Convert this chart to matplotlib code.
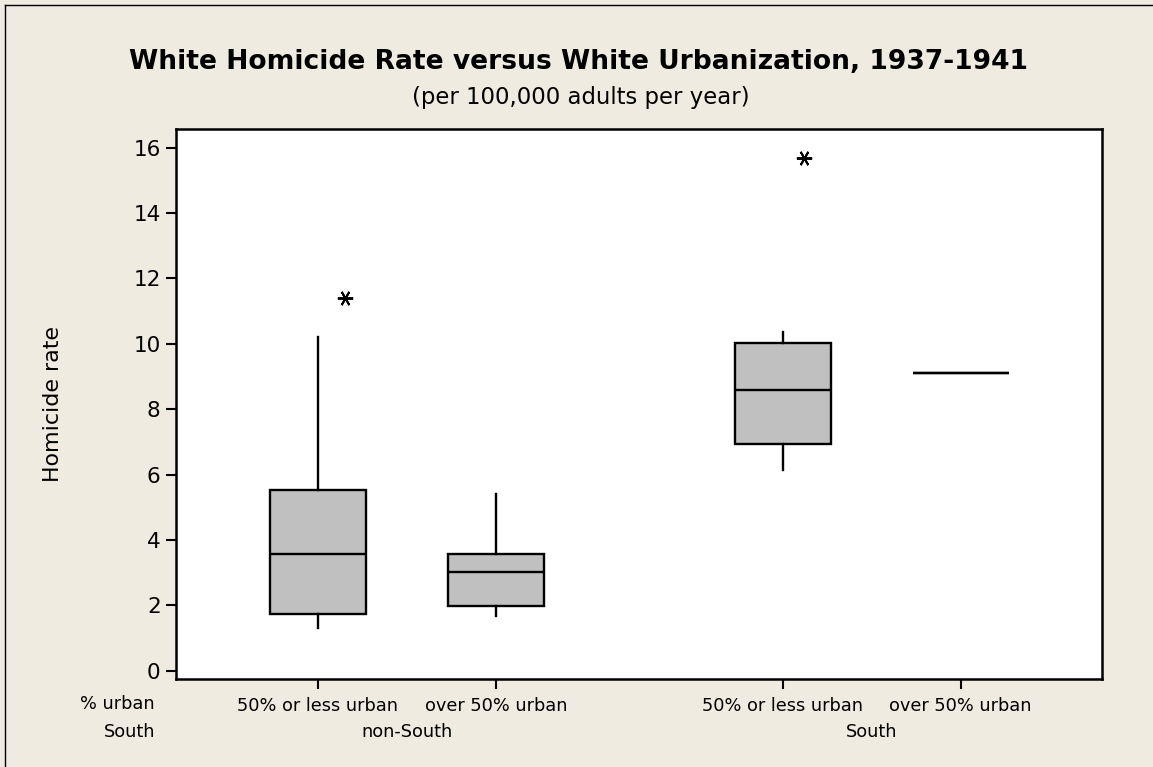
import matplotlib.pyplot as plt
from matplotlib.lines import Line2D

# Werte
categories = ["50% or less urban", "over 50% urban", "50% or less urban", "over 50% urban"]
groups = ["non-South", "South"]
positions = [1, 2, 3.61, 4.61]

q1 = [1.74, 1.97, 6.94, 9.1]
median = [3.57, 3.03, 8.58, 9.1]
q3 = [5.53, 3.57, 10.04, 9.1]
whis_lo = [1.30, 1.67, 6.13, 9.1]
whis_hi = [10.22, 5.41, 10.37, 9.1]

outlier_box = [0, 2]
outlier_val = [11.40, 15.67]
outlier_jitter = [0.15, 0.12]

bg = "#EFEBE1"

stats = []
for i in range(len(categories)):
    stats.append({
        'med': median[i], 'q1': q1[i], 'q3': q3[i],
        'whislo': whis_lo[i], 'whishi': whis_hi[i], 'fliers': [],
    })

fig = plt.figure(figsize=(11.53, 7.67), dpi=100, facecolor=bg)
ax = fig.add_axes([0.1526, 0.1147, 0.8031, 0.7171])

ax.bxp(stats, positions=positions, widths=0.54, patch_artist=True,
       showcaps=False,
       boxprops=dict(facecolor="#C0C0C0", edgecolor="black", linewidth=1.7),
       medianprops=dict(color="black", linewidth=1.7),
       whiskerprops=dict(color="black", linewidth=1.7))

for b, v, j in zip(outlier_box, outlier_val, outlier_jitter):
    ax.plot(positions[b] + j, v, marker=(6, 2, 90), markersize=11,
            markeredgewidth=1.4, color="black", linestyle="none")

ax.set_xlim(0.202, 5.404)
ax.set_ylim(-0.25, 16.57)
ax.set_yticks(range(0, 17, 2))
ax.set_xticks(positions)
ax.set_xticklabels(categories, fontsize=12.8)
ax.tick_params(axis='y', labelsize=15.5, length=7, width=1.5, direction='out', pad=4)
ax.tick_params(axis='x', length=7, width=1.5, direction='out', pad=6)
for s in ax.spines.values():
    s.set_linewidth(1.8)
ax.set_ylabel("Homicide rate", fontsize=15.9)
ax.yaxis.set_label_coords(-0.122, 0.5)

# Gruppen-Beschriftung
for k, g in enumerate(groups):
    xc = (positions[2 * k] + positions[2 * k + 1]) / 2
    ax.text(xc, -0.0964, g, transform=ax.get_xaxis_transform(),
            ha='center', va='center', fontsize=12.8)
fig.text(0.1344, 0.0821, "% urban", ha='right', va='center', fontsize=12.8)
fig.text(0.1344, 0.0456, "South", ha='right', va='center', fontsize=12.8)

fig.text(0.502, 0.919, "White Homicide Rate versus White Urbanization, 1937-1941",
         ha='center', va='center', fontsize=19.1, fontweight='bold')
fig.text(0.5035, 0.8735, "(per 100,000 adults per year)",
         ha='center', va='center', fontsize=16.4)

# Rahmen links/oben
fig.add_artist(Line2D([0.0043, 0.0043], [0, 0.9935], transform=fig.transFigure, color="black", linewidth=1))
fig.add_artist(Line2D([0.0043, 1], [0.9935, 0.9935], transform=fig.transFigure, color="black", linewidth=1))

fig.savefig("out.png", dpi=100, facecolor=bg)
